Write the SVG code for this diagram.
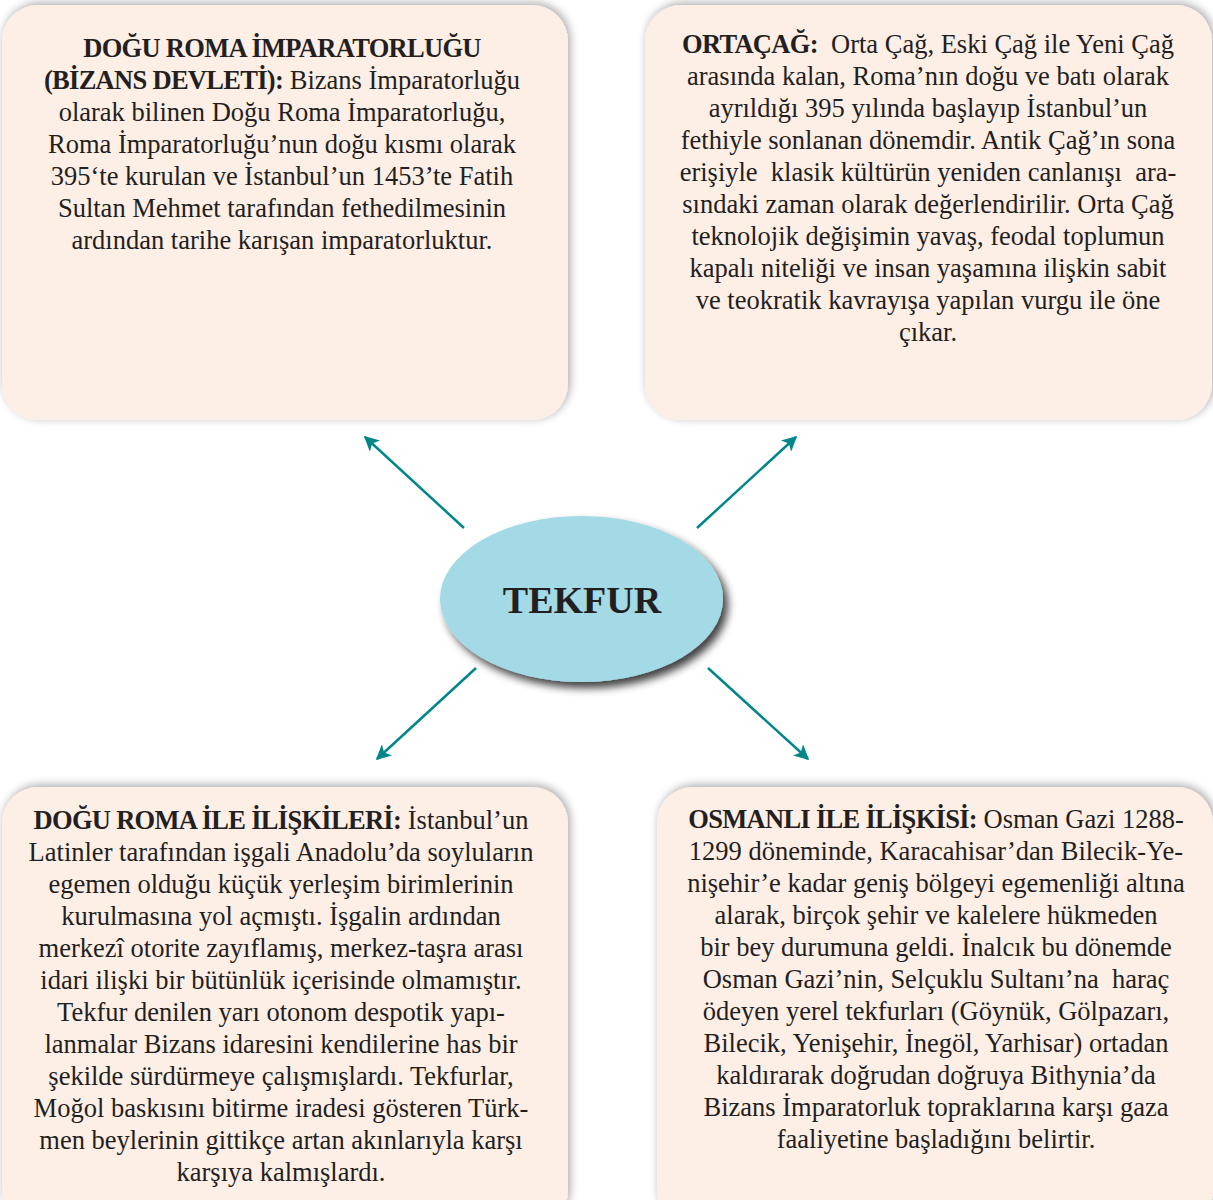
<svg xmlns="http://www.w3.org/2000/svg" width="1213" height="1200" viewBox="0 0 1213 1200">
<style>
.box{fill:#fdeee6;filter:url(#sh)}
.t{font-family:"Liberation Serif","DejaVu Serif",serif;font-size:26.5px;fill:#231f20;text-anchor:middle;white-space:pre}
.b{font-weight:bold;letter-spacing:-0.7px}
.arr{stroke:#00868a;stroke-width:2.5;fill:none;marker-end:url(#ah)}
</style>
<defs>
<filter id="sh" x="-10%" y="-10%" width="120%" height="120%">
<feGaussianBlur in="SourceAlpha" stdDeviation="5"/>
<feOffset dx="2" dy="-2" result="o"/>
<feComponentTransfer><feFuncA type="linear" slope="0.35"/></feComponentTransfer>
<feMerge><feMergeNode/><feMergeNode in="SourceGraphic"/></feMerge>
</filter>
<filter id="esh" x="-20%" y="-20%" width="140%" height="140%">
<feGaussianBlur in="SourceAlpha" stdDeviation="4"/>
<feOffset dx="5" dy="6"/>
<feComponentTransfer><feFuncA type="linear" slope="0.75"/></feComponentTransfer>
<feMerge><feMergeNode/><feMergeNode in="SourceGraphic"/></feMerge>
</filter>
<marker id="ah" viewBox="0 0 10 10" refX="9" refY="5" markerWidth="7" markerHeight="6" orient="auto" markerUnits="strokeWidth">
<path d="M0,0 L10,5 L0,10 L2.5,5 Z" fill="#00868a"/>
</marker>
</defs>
<rect width="1213" height="1200" fill="#ffffff"/>

<g id="box-dogu-roma">
<rect class="box" x="2" y="5" width="566" height="415" rx="36"/>
<text class="t" x="282" y="57"><tspan class="b">DOĞU ROMA İMPARATORLUĞU</tspan></text>
<text class="t" x="282" y="89"><tspan class="b">(BİZANS DEVLETİ):</tspan> Bizans İmparatorluğu</text>
<text class="t" x="282" y="121">olarak bilinen Doğu Roma İmparatorluğu,</text>
<text class="t" x="282" y="153">Roma İmparatorluğu’nun doğu kısmı olarak</text>
<text class="t" x="282" y="185">395‘te kurulan ve İstanbul’un 1453’te Fatih</text>
<text class="t" x="282" y="217">Sultan Mehmet tarafından fethedilmesinin</text>
<text class="t" x="282" y="249">ardından tarihe karışan imparatorluktur.</text>
</g>

<g id="box-ortacag">
<rect class="box" x="645" y="5" width="567" height="415" rx="36"/>
<text class="t" x="928" y="53"><tspan class="b">ORTAÇAĞ:</tspan>  Orta Çağ, Eski Çağ ile Yeni Çağ</text>
<text class="t" x="928" y="85">arasında kalan, Roma’nın doğu ve batı olarak</text>
<text class="t" x="928" y="117">ayrıldığı 395 yılında başlayıp İstanbul’un</text>
<text class="t" x="928" y="149">fethiyle sonlanan dönemdir. Antik Çağ’ın sona</text>
<text class="t" x="928" y="181">erişiyle  klasik kültürün yeniden canlanışı  ara-</text>
<text class="t" x="928" y="213">sındaki zaman olarak değerlendirilir. Orta Çağ</text>
<text class="t" x="928" y="245">teknolojik değişimin yavaş, feodal toplumun</text>
<text class="t" x="928" y="277">kapalı niteliği ve insan yaşamına ilişkin sabit</text>
<text class="t" x="928" y="309">ve teokratik kavrayışa yapılan vurgu ile öne</text>
<text class="t" x="928" y="341">çıkar.</text>
</g>

<g id="box-iliskiler">
<rect class="box" x="2" y="787" width="566" height="440" rx="36"/>
<text class="t" x="281" y="829"><tspan class="b">DOĞU ROMA İLE İLİŞKİLERİ:</tspan> İstanbul’un</text>
<text class="t" x="281" y="861">Latinler tarafından işgali Anadolu’da soyluların</text>
<text class="t" x="281" y="893">egemen olduğu küçük yerleşim birimlerinin</text>
<text class="t" x="281" y="925">kurulmasına yol açmıştı. İşgalin ardından</text>
<text class="t" x="281" y="957">merkezî otorite zayıflamış, merkez-taşra arası</text>
<text class="t" x="281" y="989">idari ilişki bir bütünlük içerisinde olmamıştır.</text>
<text class="t" x="281" y="1021">Tekfur denilen yarı otonom despotik yapı-</text>
<text class="t" x="281" y="1053">lanmalar Bizans idaresini kendilerine has bir</text>
<text class="t" x="281" y="1085">şekilde sürdürmeye çalışmışlardı. Tekfurlar,</text>
<text class="t" x="281" y="1117">Moğol baskısını bitirme iradesi gösteren Türk-</text>
<text class="t" x="281" y="1149">men beylerinin gittikçe artan akınlarıyla karşı</text>
<text class="t" x="281" y="1181">karşıya kalmışlardı.</text>
</g>

<g id="box-osmanli">
<rect class="box" x="657" y="787" width="556" height="440" rx="36"/>
<text class="t" x="936" y="828"><tspan class="b">OSMANLI İLE İLİŞKİSİ:</tspan> Osman Gazi 1288-</text>
<text class="t" x="936" y="860">1299 döneminde, Karacahisar’dan Bilecik-Ye-</text>
<text class="t" x="936" y="892">nişehir’e kadar geniş bölgeyi egemenliği altına</text>
<text class="t" x="936" y="924">alarak, birçok şehir ve kalelere hükmeden</text>
<text class="t" x="936" y="956">bir bey durumuna geldi. İnalcık bu dönemde</text>
<text class="t" x="936" y="988">Osman Gazi’nin, Selçuklu Sultanı’na  haraç</text>
<text class="t" x="936" y="1020">ödeyen yerel tekfurları (Göynük, Gölpazarı,</text>
<text class="t" x="936" y="1052">Bilecik, Yenişehir, İnegöl, Yarhisar) ortadan</text>
<text class="t" x="936" y="1084">kaldırarak doğrudan doğruya Bithynia’da</text>
<text class="t" x="936" y="1116">Bizans İmparatorluk topraklarına karşı gaza</text>
<text class="t" x="936" y="1148">faaliyetine başladığını belirtir.</text>
</g>

<g id="connectors">
<line class="arr" x1="464" y1="528" x2="365" y2="437"/>
<line class="arr" x1="697" y1="528" x2="796" y2="437"/>
<line class="arr" x1="476" y1="668" x2="377" y2="759"/>
<line class="arr" x1="708" y1="668" x2="808" y2="759"/>
</g>

<g id="node-tekfur">
<ellipse cx="581.5" cy="599" rx="141.5" ry="83" fill="#a3dae6" filter="url(#esh)"/>
<text class="t" x="582" y="613" style="font-size:38px;font-weight:bold">TEKFUR</text>
</g>
</svg>
